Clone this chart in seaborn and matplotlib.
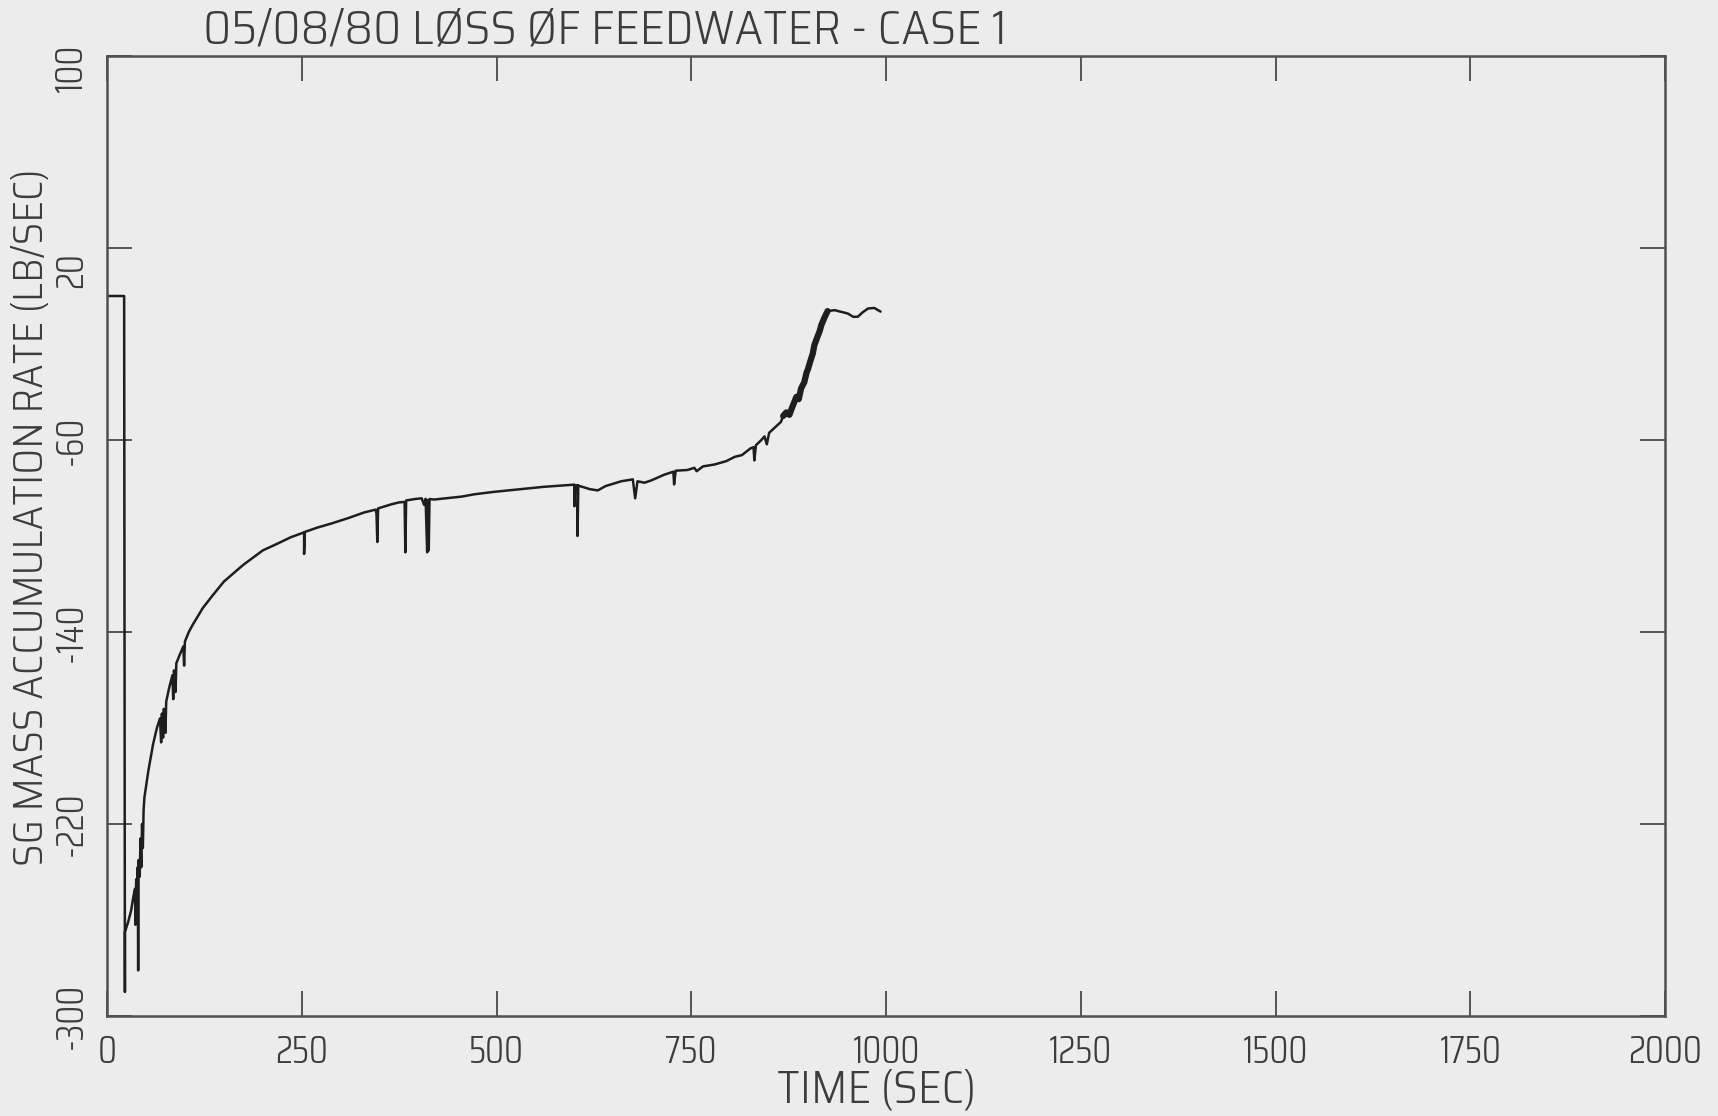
import numpy as np
import pandas as pd
import matplotlib
matplotlib.use("Agg")
import matplotlib.pyplot as plt
import matplotlib.transforms as mtransforms
import seaborn as sns

# Steam generator mass accumulation rate, loss of feedwater transient (case 1)
time_s = [
    0, 22, 23, 23,
    27, 31, 34, 36, 36.5, 37.5, 38.5, 39.5, 40, 40.5, 42, 43, 44, 45, 46, 47, 48,
    53, 59, 64, 68, 69.5, 70.5, 72, 73, 75, 76, 80, 84, 85, 86, 88, 89,
    94, 98, 99, 100, 105, 110, 123, 135, 150, 175, 200, 220, 236,
    253, 253, 254, 270, 288, 310, 330, 345, 346, 347, 348, 365, 375,
    382, 383, 384, 395, 404, 407, 409, 411, 412, 413, 414, 420, 437,
    455, 472, 497, 530, 561, 590, 600, 600, 601, 604, 604, 605,
    620, 630, 640, 660, 675, 678, 681, 690, 699, 715, 727, 728, 730,
    745, 754, 757, 765, 780, 795, 806, 815, 826, 830, 831, 833, 840,
    844, 847, 850, 860, 865, 868, 872, 876, 880, 885, 888, 891, 895,
    898, 900, 903, 906, 908, 912, 915, 917, 921, 925, 934, 945, 951,
    958, 964, 970, 977, 985, 993,
]
rate_lbs = [
    0, 0, -290, -265,
    -261, -256, -250, -247, -262, -243, -258, -238, -281, -235, -242, -226, -238, -220, -230, -214, -209,
    -198, -187, -180, -176, -186, -174, -184, -172, -182, -169, -163, -158, -168, -156, -165, -153,
    -149, -146, -154, -144, -140, -137, -130, -125, -119, -112, -106, -103, -100.5,
    -98.5, -107.5, -98.3, -96.5, -94.8, -92.5, -90.2, -89, -91, -102.5, -88.5, -86.8, -86,
    -85.8, -106.8, -85.2, -84.6, -84.3, -87, -84.5, -106.8, -85, -106, -84.6, -84.8, -84.2,
    -83.6, -82.6, -81.6, -80.5, -79.5, -78.8, -78.6, -87.6, -79, -78.8, -100, -79,
    -80.5, -81, -79.2, -77.2, -76.4, -84.3, -77.2, -77.8, -76.8, -74.5, -73.2, -78.5, -72.8,
    -72.5, -71.6, -73, -71, -70.2, -68.8, -67, -66.3, -63.5, -63, -68.5, -62.2, -60,
    -58.5, -61.8, -57, -54, -52.5, -50, -48.5, -49.5, -46, -42, -43, -38.5, -36,
    -32, -30.3, -27, -24, -20.5, -17, -14.5, -12.1, -9, -6.3, -5.9, -6.8, -7.3,
    -8.7, -8.6, -6.8, -5.2, -5.0, -6.5,
]

x_ticks = [0, 250, 500, 750, 1000, 1250, 1500, 1750, 2000]
x_tick_labels = ["0", "250", "500", "750", "1000", "1250", "1500", "1750", "2000"]
y_ticks = [-300, -220, -140, -60, 20, 100]
y_tick_labels = ["-300", "-220", "-140", "-60", "20", "100"]

title_text = "05/08/80 LØSS ØF FEEDWATER - CASE 1"
x_label = "TIME (SEC)"
y_label = "SG MASS ACCUMULATION RATE (LB/SEC)"

sns.set_theme(style="white")
plt.rcParams["font.family"] = ["Saira SemiCondensed", "DejaVu Sans"]
plt.rcParams["font.weight"] = 300
tick_family = ["Saira Condensed", "DejaVu Sans"]

paper = "#ececec"
ink = "#3c3c3c"
trace = "#1e1e1e"

W, H = 1718, 1116
fig = plt.figure(figsize=(W / 100, H / 100), dpi=100, facecolor=paper)
ax = fig.add_axes([107 / W, 1 - 1016 / H, (1665 - 107) / W, 960 / H])
ax.set_facecolor(paper)

df = pd.DataFrame({"time": time_s, "rate": rate_lbs})
sns.lineplot(data=df, x="time", y="rate", sort=False, estimator=None,
             color=trace, linewidth=1.8, ax=ax, legend=False)
# the steep recovery is plotted as a dense, heavy band
rise = df[(df["time"] >= 868) & (df["time"] <= 925)]
sns.lineplot(data=rise, x="time", y="rate", sort=False, estimator=None,
             color=trace, linewidth=4.5, ax=ax, legend=False)

ax.set_xlim(0, 2000)
ax.set_ylim(-300, 100)
ax.set_xticks(x_ticks)
ax.set_xticklabels(x_tick_labels, family=tick_family)
ax.set_yticks(y_ticks)
ax.set_yticklabels(y_tick_labels, rotation=90, va="center", family=tick_family)
ax.set_xlabel("")
ax.set_ylabel("")
ax.tick_params(axis="both", direction="in", length=18, width=1.2, color=ink,
               bottom=True, top=True, left=True, right=True,
               labelsize=28, labelcolor=ink, pad=13)
for spine in ax.spines.values():
    spine.set_color("#505050")
    spine.set_linewidth(1.8)

# positive labels sit a little below their ticks
for lab in ax.get_yticklabels():
    shift = {"100": -12, "20": -22}.get(lab.get_text(), 0)
    if shift:
        lab.set_transform(lab.get_transform() +
                          mtransforms.ScaledTranslation(0, shift / 100, fig.dpi_scale_trans))

fig.text(203 / W, 1 - 30 / H, title_text, ha="left", va="center",
         fontsize=35, color=ink)
fig.text(877 / W, 1 - 1090 / H, x_label, ha="center", va="center",
         fontsize=33, color=ink)
fig.text(31 / W, 1 - 517 / H, y_label, ha="center", va="center",
         rotation=90, fontsize=30, color=ink)

fig.savefig("out.png", dpi=100, facecolor=paper)
